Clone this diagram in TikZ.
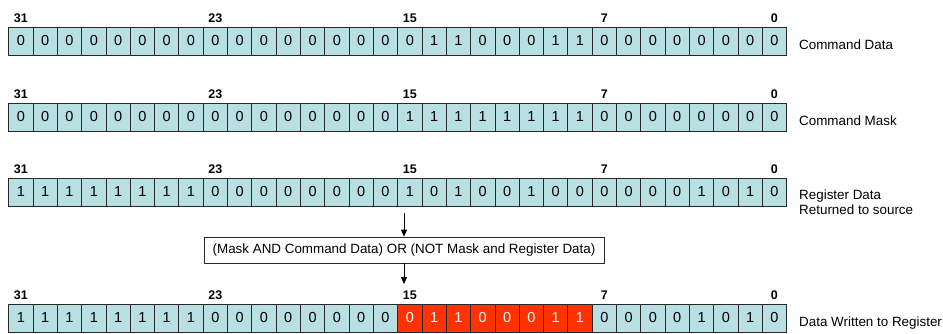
\documentclass[tikz,border=0pt]{standalone}
\usepackage{fontspec}
\setmainfont{Liberation Sans}
\usetikzlibrary{arrows.meta}
\definecolor{cellfill}{RGB}{184,223,226}
\definecolor{hotfill}{RGB}{255,51,0}
\definecolor{edge}{RGB}{40,40,40}
\tikzset{
  cell/.style={draw=edge, line width=0.8pt, fill=cellfill, minimum width=24.31pt,
    minimum height=28pt, inner sep=0pt, font=\fontsize{14.5}{16}\selectfont},
  hotcell/.style={cell, fill=hotfill, text=white},
  bitnum/.style={inner sep=0pt, font=\fontsize{12.5}{14}\bfseries\selectfont},
  rowlabel/.style={anchor=west, inner sep=0pt, align=left,
    font=\fontsize{13.4}{15.5}\selectfont},
  opbox/.style={draw=edge, line width=0.7pt, fill=white, minimum width=400pt,
    minimum height=26pt, inner sep=0pt, font=\fontsize{13.4}{15}\selectfont},
  flow/.style={line width=0.7pt, -{Triangle[length=7pt,width=6pt]}}
}
\newcommand\cellx[1]{8.7+24.31*(#1+0.5)}
\begin{document}
\begin{tikzpicture}[x=1pt,y=1pt]
\useasboundingbox (0,0) rectangle (943,-334);

% bit position markers above every register
\foreach \rowname/\ny in {a/18.5,b/94.5,c/169.5,d/295.5}{
  \foreach \pos/\num in {0/31,8/23,16/15,24/7,31/0}{
    \node[bitnum] (\rowname n\num) at ({\cellx{\pos}},-\ny) {\num};
  }
}

% command data
\foreach \b [count=\i from 0] in {0,0,0,0,0,0,0,0,0,0,0,0,0,0,0,0,0,1,1,0,0,0,1,1,0,0,0,0,0,0,0,0}
  \node[cell] (a\i) at ({\cellx{\i}},-41) {\b};
\node[rowlabel] (alabel) at (799,-45) {Command Data};

% command mask
\foreach \b [count=\i from 0] in {0,0,0,0,0,0,0,0,0,0,0,0,0,0,0,0,1,1,1,1,1,1,1,1,0,0,0,0,0,0,0,0}
  \node[cell] (b\i) at ({\cellx{\i}},-117) {\b};
\node[rowlabel] (blabel) at (799,-121) {Command Mask};

% register data
\foreach \b [count=\i from 0] in {1,1,1,1,1,1,1,1,0,0,0,0,0,0,0,0,1,0,1,0,0,1,0,0,0,0,0,0,1,0,1,0}
  \node[cell] (c\i) at ({\cellx{\i}},-192) {\b};
\node[rowlabel] (clabel) at (799,-202) {Register Data\\Returned to source};

% merge operation
\node[opbox] (op) at (404,-250) {(Mask AND Command Data) OR (NOT Mask and Register Data)};
\coordinate (in) at (404,-213);
\coordinate (out) at (404,-284);
\draw[flow] (in) -- (op.north);
\draw[flow] (op.south) -- (out);

% data written to register
\foreach \b [count=\i from 0] in {1,1,1,1,1,1,1,1,0,0,0,0,0,0,0,0}
  \node[cell] (d\i) at ({\cellx{\i}},-318) {\b};
\foreach \b [count=\i from 16] in {0,1,1,0,0,0,1,1}
  \node[hotcell] (d\i) at ({\cellx{\i}},-318) {\b};
\foreach \b [count=\i from 24] in {0,0,0,0,1,0,1,0}
  \node[cell] (d\i) at ({\cellx{\i}},-318) {\b};
\node[rowlabel] (dlabel) at (799,-323) {Data Written to Register};
\end{tikzpicture}
\end{document}
